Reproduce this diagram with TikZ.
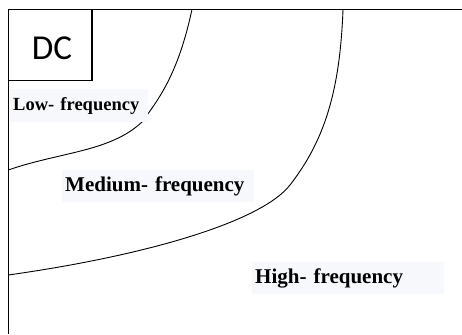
\documentclass[tikz,border=0pt]{standalone}
\usepackage{fontspec}
\setmainfont{Liberation Serif}
\newfontfamily\dcfont{Carlito}
\definecolor{lblbg}{RGB}{246,248,252}
\begin{document}
\begin{tikzpicture}[x=1pt,y=-1pt,
  frame/.style={line width=1.5pt,black},
  curve/.style={line width=0.9pt,black},
  lbl/.style={fill=lblbg,anchor=north west,inner xsep=3pt,inner ysep=0pt,align=left,font=\bfseries}]
\useasboundingbox (0,0) rectangle (462,334);
% frame
\draw[frame] (462,9.3) -- (8.3,9.3) -- (8.3,334);
\draw[frame] (8.3,80.5) -- (92,80.5) -- (92,9.3);
\node[anchor=base,font=\dcfont\fontsize{35}{40}\selectfont,inner sep=0pt] (dc) at (52,60) {DC};
% curves
\coordinate (c1a) at (192,9.3);
\coordinate (c1b) at (142,122);
\coordinate (c1c) at (8.3,170);
\coordinate (c2a) at (343,9.3);
\coordinate (c2b) at (290,185);
\coordinate (c2c) at (8.3,275);
\draw[curve] (c1a) .. controls (178,75) and (158,100) .. (c1b)
                   .. controls (110,152) and (60,152) .. (c1c);
\draw[curve] (c2a) .. controls (340,90) and (325,140) .. (c2b)
                   .. controls (262,221) and (150,255) .. (c2c);
% labels
\node[lbl,text width=132pt,minimum height=33pt,font=\bfseries\fontsize{18.5}{20}\selectfont] (low) at (10,89) {Low- frequency};
\node[lbl,text width=186pt,minimum height=32pt,font=\bfseries\fontsize{21}{23}\selectfont] (med) at (62,170) {Medium- frequency};
\node[lbl,text width=186pt,minimum height=32pt,font=\bfseries\fontsize{21}{23}\selectfont] (high) at (252,262) {High- frequency};
\end{tikzpicture}
\end{document}
